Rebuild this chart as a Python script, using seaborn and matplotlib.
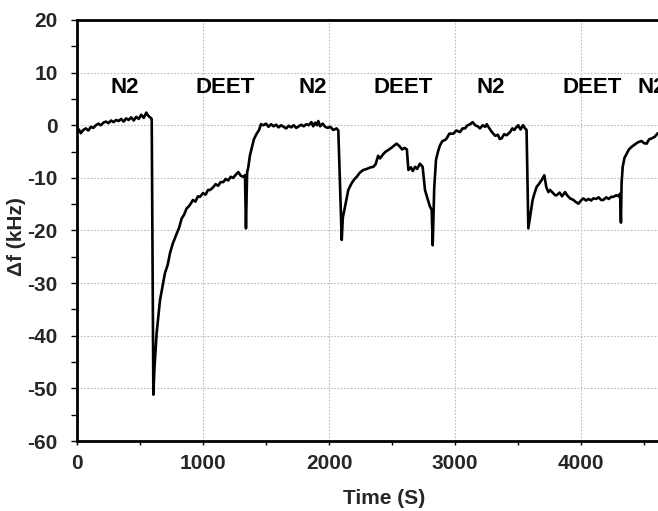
import matplotlib
matplotlib.use("Agg")
import matplotlib.pyplot as plt
import seaborn as sns
import pandas as pd
from matplotlib.ticker import MultipleLocator

# ---- data ----
time_s = [0, 15, 30, 50, 70, 90, 110, 130, 150, 170, 190, 210, 230, 250, 270, 290,
          310, 330, 350, 370, 390, 410, 430, 450, 470, 490, 510, 530, 550, 565, 580, 593,
          606, 615, 632, 659, 698, 720, 738, 760, 791, 810, 831, 850, 870, 884, 900,
          920, 940, 960, 976, 1000, 1020, 1040, 1056, 1080, 1100, 1120, 1140, 1161,
          1180, 1200, 1220, 1240, 1260, 1280, 1300, 1320, 1333, 1341, 1350, 1360, 1372,
          1386, 1405, 1426, 1445, 1460, 1479,
          1500, 1520, 1540, 1560, 1580, 1600, 1620, 1640, 1660, 1680, 1700, 1720, 1740,
          1760, 1780, 1800, 1820, 1840, 1860, 1875, 1890, 1905, 1915, 1930, 1950, 1970,
          1990, 2010, 2034, 2060, 2074,
          2101, 2110, 2127, 2153, 2180, 2200, 2220, 2245, 2272, 2300, 2330, 2352, 2370,
          2390, 2405, 2430, 2450, 2471, 2500, 2520, 2537, 2560, 2580, 2600, 2618, 2630,
          2650, 2665, 2683, 2700, 2722, 2743, 2762, 2780, 2802, 2815, 2823, 2835, 2849,
          2865, 2881, 2900, 2921, 2934, 2955, 2987, 3010, 3040, 3060, 3079, 3100, 3120,
          3140, 3160, 3180, 3198, 3220, 3240, 3252, 3270, 3290, 3304, 3320, 3340, 3355,
          3370, 3390, 3410, 3437, 3455, 3470, 3490, 3502, 3520, 3540, 3556, 3568,
          3582, 3595, 3616, 3630, 3648, 3665, 3688, 3709, 3725, 3741, 3754, 3775, 3794,
          3807, 3830, 3850, 3873, 3893, 3913, 3940, 3960, 3979, 4000, 4019, 4040, 4060,
          4080, 4098, 4120, 4140, 4160, 4177, 4200, 4220, 4240, 4257, 4280, 4300, 4310,
          4317, 4322, 4331, 4345, 4363, 4380, 4402, 4430, 4455, 4480, 4500, 4521, 4540,
          4561, 4585, 4606, 4640]
delta_f = [-1.3, -0.8, -1.5, -0.9, -0.6, -1.0, -0.3, -0.5, 0.0, 0.3, 0.0, 0.5, 0.7, 0.4, 0.9, 0.6,
           1.0, 0.8, 1.2, 0.7, 1.3, 1.0, 1.5, 0.9, 1.6, 1.2, 2.0, 1.4, 2.4, 1.8, 1.5, 1.2,
           -51.2, -46.0, -39.5, -33.2, -28.1, -26.5, -24.3, -22.5, -20.6, -19.5, -17.7, -17.0, -15.8, -15.5, -15.0,
           -14.2, -14.5, -13.5, -13.6, -12.9, -13.2, -12.3, -12.3, -11.8, -11.2, -11.5, -10.8, -10.8,
           -10.2, -10.5, -9.8, -10.0, -9.4, -8.9, -9.6, -9.8, -9.5, -19.6, -9.0, -7.9, -5.8,
           -4.4, -2.6, -1.6, -0.9, 0.2, 0.0,
           0.3, -0.3, 0.2, -0.2, 0.1, -0.4, 0.0, -0.3, -0.6, -0.1, -0.4, 0.0, -0.5,
           -0.2, 0.1, -0.2, 0.2, 0.0, 0.6, -0.2, 0.5, 0.0, 0.8, -0.2, 0.3, -0.3,
           -0.5, -0.3, -0.9, -0.6, -1.0,
           -21.8, -17.5, -15.5, -12.3, -11.0, -10.3, -9.8, -9.0, -8.5, -8.3, -8.0, -7.9, -7.4,
           -5.8, -6.3, -5.5, -5.0, -4.7, -4.2, -3.8, -3.5, -4.0, -4.6, -4.3, -4.6, -8.5,
           -8.0, -8.7, -7.9, -8.3, -7.3, -7.9, -12.3, -13.8, -15.5, -16.1, -22.8, -12.0, -6.6,
           -5.0, -3.8, -3.0, -2.8, -2.5, -1.6, -1.6, -1.0, -1.3, -0.6, -0.6, 0.0, 0.2,
           0.6, 0.0, -0.2, -0.6, 0.0, -0.3, 0.2, -0.5, -1.2, -1.6, -2.0, -1.8, -2.6,
           -2.5, -1.7, -1.9, -1.3, -0.6, -0.9, -0.3, 0.0, -0.8, 0.0, -0.6, -0.9,
           -19.6, -17.5, -14.2, -13.0, -11.7, -11.2, -10.4, -9.5, -11.8, -12.7, -12.3, -12.8, -13.3,
           -13.3, -12.8, -13.5, -12.7, -13.4, -13.9, -14.2, -14.6, -14.9, -14.3, -13.9, -14.3, -14.0,
           -14.3, -13.9, -14.0, -13.7, -14.2, -14.2, -13.7, -14.0, -13.6, -13.6, -13.3, -13.5, -13.0,
           -18.5, -11.0, -7.9, -6.2, -5.4, -4.6, -4.1, -3.6, -3.2, -3.0, -3.4, -3.5, -2.7,
           -2.5, -2.2, -1.6, -1.2]

phase_labels = ["N2", "DEET", "N2", "DEET", "N2", "DEET", "N2"]
phase_x = [381, 1175, 1873, 2587, 3286, 4091, 4560]
phase_y = 7.2

df = pd.DataFrame({"Time (S)": time_s, "df": delta_f})

sns.set_style("white")
plt.rcParams["font.family"] = ["Liberation Sans", "DejaVu Sans"]
plt.rcParams["font.weight"] = "bold"
plt.rcParams["axes.unicode_minus"] = False

fig = plt.figure(figsize=(6.58, 5.11), dpi=100)
ax = fig.add_axes([77 / 658, 70 / 511, 614 / 658, 421 / 511])

sns.lineplot(data=df, x="Time (S)", y="df", ax=ax, color="black", linewidth=1.9,
             estimator=None, sort=False)

for lab, xx in zip(phase_labels, phase_x):
    ax.text(xx, phase_y, lab, ha="center", va="center", fontsize=16,
            fontweight="bold", color="black", clip_on=False)

ax.set_xlim(0, 4873)
ax.set_ylim(-60, 20)
ax.xaxis.set_major_locator(MultipleLocator(1000))
ax.xaxis.set_minor_locator(MultipleLocator(500))
ax.yaxis.set_major_locator(MultipleLocator(10))
ax.yaxis.set_minor_locator(MultipleLocator(5))

ax.grid(True, which="major", linestyle=(0, (1.5, 1.5)), color="#bdbdbd", linewidth=0.8)
ax.set_axisbelow(True)

for s in ["left", "bottom", "top", "right"]:
    ax.spines[s].set_color("black")
    ax.spines[s].set_linewidth(2.0)

ax.tick_params(axis="y", which="both", direction="out", length=4, width=1.0,
               color="black", left=True, labelsize=15, pad=10)
ax.tick_params(axis="x", which="both", direction="out", length=3, width=1.0,
               color="black", bottom=True, labelsize=15, pad=6)
for lbl in ax.get_xticklabels() + ax.get_yticklabels():
    lbl.set_fontweight("bold")

ax.set_xlabel("Time (S)", fontsize=15, fontweight="bold")
ax.set_ylabel("Δf (kHz)", fontsize=15, fontweight="bold")
ax.xaxis.set_label_coords(0.5, -0.115)
ax.yaxis.set_label_coords(-0.083, 0.485)

fig.savefig("out.png", dpi=100)
